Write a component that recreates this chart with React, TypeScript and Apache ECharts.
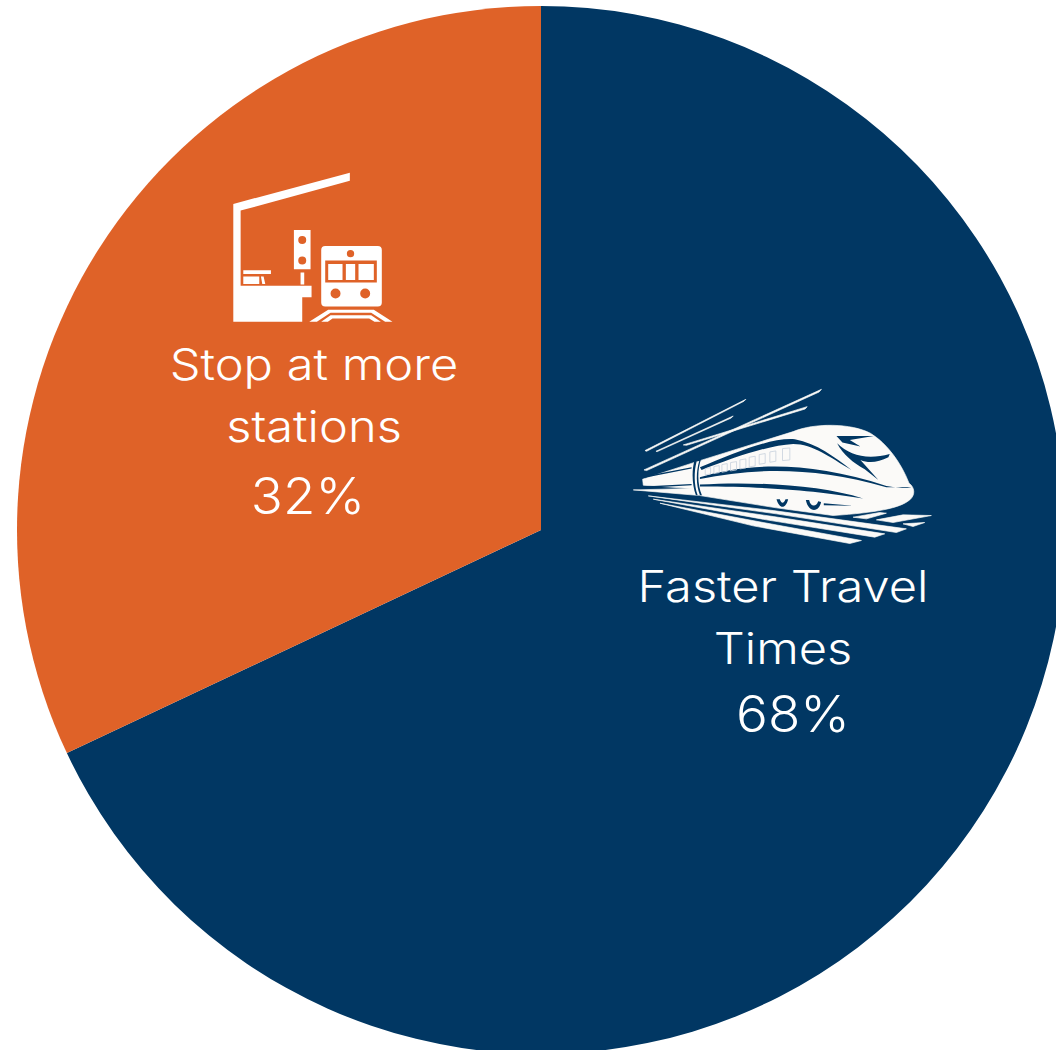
import React, { useEffect, useRef } from "react";
import * as echarts from "echarts";

const categories = ["Faster Travel Times", "Stop at more stations"];
const values = [68, 32];
const sliceColors = ["#013763", "#DF6228"];
const labelLines = [["Faster Travel", "Times"], ["Stop at more", "stations"]];

const FONT = "Inter";

const shape = (name: string, d: string) => {
  echarts.graphic.registerShape(name, echarts.graphic.extendPath(d as any, {}) as any);
};

shape("stationWhite",
  "M100,132 L450,38 L450,62 L122,152 L122,378 L335,378 L335,412 L307,412 L307,486 L100,486 Z " +
  "M130,331 L213,331 L213,342 L130,342 Z M130,350 L178,350 L178,372 L130,372 Z M183,350 L191,350 L196,372 L187,372 Z " +
  "M282,210 L332,210 L332,328 L282,328 Z M302,338 L313,338 L313,374 L302,374 Z " +
  "M376,258 L534,258 Q546,258 546,270 L546,428 Q546,440 534,440 L376,440 Q364,440 364,428 L364,270 Q364,258 376,258 Z " +
  "M328,486 L385,450 L522,450 L578,486 L556,486 L514,459 L392,459 L351,486 Z " +
  "M364,486 L392,466 L514,466 L543,486 L524,486 L508,476 L398,476 L384,486 Z");
shape("stationOrange",
  "M295,240 A12,12 0 1 1 319,240 A12,12 0 1 1 295,240 Z M295,302 A12,12 0 1 1 319,302 A12,12 0 1 1 295,302 Z " +
  "M441,281 A11,11 0 1 1 463,281 A11,11 0 1 1 441,281 Z " +
  "M392,401 A15,15 0 1 1 422,401 A15,15 0 1 1 392,401 Z M481,401 A15,15 0 1 1 511,401 A15,15 0 1 1 481,401 Z " +
  "M376,302 L531,302 L531,368 L376,368 Z");
shape("stationWindows",
  "M385,312 L428,312 L428,360 L385,360 Z M438,312 L466,312 L466,360 L438,360 Z M476,312 L522,312 L522,360 L476,360 Z");

shape("trainWhite",
  "M68,298 L228,246 L520,155 C585,128 695,130 752,160 C802,190 845,250 868,310 C885,322 888,345 870,360 C840,385 770,398 640,407 L470,384 L240,347 L40,330 L215,326 L70,316 Z " +
  "M75,212 L378,58 L372,64 L80,214 Z M108,214 L340,108 L334,114 L112,215 Z " +
  "M72,270 L605,28 L598,36 L80,272 Z M190,195 L562,80 L556,87 L200,196 Z " +
  "M85,348 L460,392 L860,447 L830,458 L470,402 Z M100,358 L460,410 L795,462 L765,472 L440,420 Z M120,370 L430,428 L725,482 L690,491 L400,438 Z " +
  "M700,412 L780,398 L800,400 L740,417 Z M770,420 L850,405 L935,407 L820,428 Z M850,432 L915,428 L880,440 Z");
shape("trainNavy",
  "M240,262 C340,222 450,172 525,178 C590,190 645,232 695,270 C630,232 580,192 520,192 C440,196 330,238 245,270 Z " +
  "M240,292 C380,250 560,240 800,318 C850,326 865,325 875,322 L800,322 C580,258 400,265 240,297 Z " +
  "M240,314 C400,304 600,315 730,356 C620,338 480,320 240,320 Z " +
  "M650,168 L762,168 L690,180 L722,200 L668,188 Z " +
  "M652,190 C690,228 745,240 810,222 L806,232 C775,248 745,250 722,240 L776,300 L735,268 C700,248 670,225 652,190 Z " +
  "M470,358 L480,358 C484,372 492,372 497,358 L505,358 C498,388 478,388 470,358 Z " +
  "M558,360 L568,360 C572,382 590,382 595,364 L604,366 C596,400 566,398 558,360 Z " +
  "M612,370 L700,378 L612,376 Z " +
  "M224,240 L244,236 C232,270 232,315 246,346 L228,346 C216,315 215,270 224,240 Z " +
  "M70,290 L215,262 L215,266 L70,294 Z M70,320 L215,312 L215,316 L70,324 Z");
shape("trainBand",
  "M230,245 L238,243 C228,275 228,315 240,345 L233,345 C222,315 222,275 230,245 Z");
shape("trainWindows",
  "M488,206 L510,204 L510,240 L488,242 Z M450,216 L468,213 L468,244 L450,247 Z M418,224 L436,221 L436,250 L418,253 Z " +
  "M388,232 L406,229 L406,258 L388,261 Z M360,240 L378,237 L378,264 L360,267 Z M332,248 L350,245 L350,270 L332,273 Z " +
  "M306,254 L322,251 L322,274 L306,277 Z M282,260 L298,257 L298,278 L282,281 Z M256,266 L272,263 L272,282 L256,285 Z");

const TOP = 10;

const bodyText = (text: string, cx: number, cy: number) => ({
  type: "text",
  x: cx,
  y: cy,
  z: TOP + 5,
  scaleX: 1.135,
  silent: true,
  style: {
    text,
    fill: "#ffffff",
    font: `300 43px ${FONT}`,
    textAlign: "center",
    textVerticalAlign: "middle",
  },
});
const pctText = (v: number, cx: number, cy: number) => ({
  type: "text",
  x: cx,
  y: cy,
  z: TOP + 5,
  scaleX: 1.06,
  silent: true,
  style: {
    text: `${v}%`,
    fill: "#ffffff",
    font: `300 50px ${FONT}`,
    textAlign: "center",
    textVerticalAlign: "middle",
  },
});
const icon = (type: string, ox: number, oy: number, layer: number, style: any) => ({
  type,
  x: ox,
  y: oy,
  z: TOP + layer,
  scaleX: 1 / 3,
  scaleY: 1 / 3,
  silent: true,
  style,
});

export default function App() {
  const ref = useRef<HTMLDivElement>(null);
  useEffect(() => {
    const chart = echarts.init(ref.current!, undefined, { renderer: "svg" });
    chart.setOption({
      animation: false,
      backgroundColor: "#ffffff",
      series: [
        {
          type: "pie",
          z: 2,
          center: [541, 530],
          radius: [0, 524],
          startAngle: 90,
          clockwise: true,
          silent: true,
          label: { show: false },
          labelLine: { show: false },
          data: categories.map((name, i) => ({
            name,
            value: values[i],
            itemStyle: { color: sliceColors[i] },
          })),
        },
      ],
      graphic: {
        elements: [
          icon("stationWhite", 200, 160, 0, { fill: "#ffffff" }),
          icon("stationOrange", 200, 160, 1, { fill: sliceColors[1] }),
          icon("stationWindows", 200, 160, 2, { fill: "#ffffff" }),
          icon("trainWhite", 620, 380, 0, { fill: "#fbfaf8", stroke: "#fbfaf8", lineWidth: 2 }),
          icon("trainNavy", 620, 380, 1, { fill: sliceColors[0] }),
          icon("trainBand", 620, 380, 2, { fill: "#fbfaf8" }),
          icon("trainWindows", 620, 380, 3, { fill: "none", stroke: "#c9d3dd", lineWidth: 2.5 }),
          bodyText(labelLines[1][0], 314, 364),
          bodyText(labelLines[1][1], 314, 426),
          pctText(values[1], 308, 496),
          bodyText(labelLines[0][0], 783, 586),
          bodyText(labelLines[0][1], 783, 648),
          pctText(values[0], 793, 714),
        ],
      },
    });
    return () => chart.dispose();
  }, []);
  return (
    <div
      ref={ref}
      style={{ position: "fixed", left: 0, top: 0, width: 1056, height: 1050, overflow: "hidden" }}
    />
  );
}
